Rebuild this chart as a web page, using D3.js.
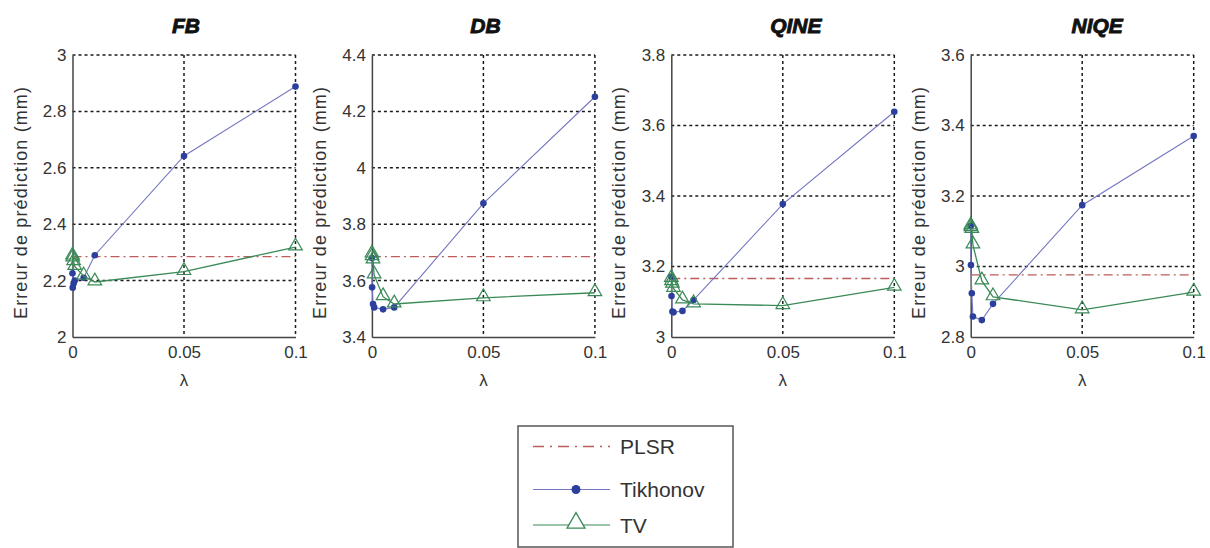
<!DOCTYPE html>
<html>
<head>
<meta charset="utf-8">
<script src="https://cdn.jsdelivr.net/npm/d3@7/dist/d3.min.js"></script>
<style>
    body { margin:0; background:#fff; }
    svg text { font-family:"Liberation Sans", Arial, sans-serif; fill:#333; }
    .title { font-weight:bold; font-style:italic; fill:#111; stroke:#111; stroke-width:0.9; }
</style>
</head>
<body>
<svg></svg>
<script>

// regularisation parameter values (x)
var lambdas = [0, 0.0001, 0.0005, 0.001, 0.005, 0.01, 0.05, 0.1];

var panelNames = ["FB", "DB", "QINE", "NIQE"];

// prediction error (mm) per panel
var tikhonovFB   = [2.226, 2.175, 2.19, 2.20, 2.21, 2.29, 2.642, 2.888];
var tvFB         = [2.287, 2.28, 2.267, 2.25, 2.216, 2.195, 2.232, 2.319];
var tikhonovDB   = [3.68, 3.576, 3.517, 3.505, 3.498, 3.505, 3.874, 4.252];
var tvDB         = [3.694, 3.685, 3.673, 3.62, 3.543, 3.517, 3.539, 3.557];
var tikhonovQINE = [3.171, 3.116, 3.072, 3.07, 3.074, 3.105, 3.377, 3.639];
var tvQINE       = [3.166, 3.157, 3.15, 3.138, 3.105, 3.094, 3.089, 3.141];
var tikhonovNIQE = [3.115, 3.004, 2.924, 2.858, 2.848, 2.894, 3.174, 3.370];
var tvNIQE       = [3.115, 3.11, 3.105, 3.061, 2.959, 2.914, 2.877, 2.927];

// PLSR reference error (constant)
var plsr = [2.285, 3.685, 3.166, 2.976];

var tikhonovAll = [tikhonovFB, tikhonovDB, tikhonovQINE, tikhonovNIQE];
var tvAll = [tvFB, tvDB, tvQINE, tvNIQE];

// axis ranges and tick labels
var yDomains = [[2, 3], [3.4, 4.4], [3, 3.8], [2.8, 3.6]];
var yTicks = [
    [2, 2.2, 2.4, 2.6, 2.8, 3],
    [3.4, 3.6, 3.8, 4, 4.2, 4.4],
    [3, 3.2, 3.4, 3.6, 3.8],
    [2.8, 3, 3.2, 3.4, 3.6]
];
var xTicks = [0, 0.05, 0.1];
var xTickLabels = ["0", "0.05", "0.1"];

var legendNames = ["PLSR", "Tikhonov", "TV"];

var colors = {
    plsr:"#bf5b5b",
    tikLine:"#7477c0",
    tikDot:"#2c3f9c",
    tv:"#3a8a58",
    grid:"#1a1a1a"
};

var screen = {width:1210, height:548};

var svg = d3.select("svg")
    .attr("width", screen.width)
    .attr("height", screen.height);

var layout = {left:72.5, step:299.4, width:223, top:55, bottom:337};
var titleShift = [2, 2, 13, 15];

var triangle = d3.symbol().type(d3.symbolTriangle);

var styleAxis = function(a)
{
    a.select(".domain").attr("stroke", "#444").attr("stroke-width", 1.5);
    a.selectAll("text")
        .attr("font-size", 17)
        .attr("fill", "#333")
        .attr("font-family", "Liberation Sans, Arial");
}

var drawPanel = function(i)
{
    var x0 = layout.left + i*layout.step;
    var h = layout.bottom - layout.top;

    var xScale = d3.scaleLinear()
        .domain([0, 0.1])
        .range([0, layout.width]);

    var yScale = d3.scaleLinear()
        .domain(yDomains[i])
        .range([h, 0]);

    var g = svg.append("g")
        .attr("transform", "translate(" + x0 + "," + layout.top + ")");

    //dotted grid
    g.append("g")
        .selectAll("line")
        .data(yTicks[i].slice(1))
        .enter()
        .append("line")
        .attr("x1", 0)
        .attr("x2", layout.width)
        .attr("y1", function(d) { return yScale(d); })
        .attr("y2", function(d) { return yScale(d); })
        .attr("stroke", colors.grid)
        .attr("stroke-width", 1.5)
        .attr("stroke-dasharray", "3,3");

    g.append("g")
        .selectAll("line")
        .data(xTicks.slice(1))
        .enter()
        .append("line")
        .attr("x1", function(d) { return xScale(d); })
        .attr("x2", function(d) { return xScale(d); })
        .attr("y1", 0)
        .attr("y2", h)
        .attr("stroke", colors.grid)
        .attr("stroke-width", 1.5)
        .attr("stroke-dasharray", "3,3");

    //axes
    var xAxis = d3.axisBottom(xScale)
        .tickValues(xTicks)
        .tickFormat(function(d, k) { return xTickLabels[k]; })
        .tickSize(0)
        .tickPadding(9);

    var yAxis = d3.axisLeft(yScale)
        .tickValues(yTicks[i])
        .tickFormat(function(d) { return String(+d.toFixed(2)); })
        .tickSize(0)
        .tickPadding(6);

    g.append("g")
        .attr("transform", "translate(0," + h + ")")
        .call(xAxis)
        .call(styleAxis);

    g.append("g")
        .call(yAxis)
        .call(styleAxis);

    //PLSR constant
    g.append("line")
        .attr("x1", xScale(0))
        .attr("x2", xScale(0.1))
        .attr("y1", yScale(plsr[i]))
        .attr("y2", yScale(plsr[i]))
        .attr("stroke", colors.plsr)
        .attr("stroke-width", 1.3)
        .attr("stroke-dasharray", "9,4,2,4");

    var lineGenerator = d3.line()
        .x(function(d, k) { return xScale(lambdas[k]); })
        .y(function(d) { return yScale(d); });

    //Tikhonov
    g.append("path")
        .datum(tikhonovAll[i])
        .attr("d", lineGenerator)
        .attr("fill", "none")
        .attr("stroke", colors.tikLine)
        .attr("stroke-width", 1.1);

    g.append("g")
        .selectAll("circle")
        .data(tikhonovAll[i])
        .enter()
        .append("circle")
        .attr("cx", function(d, k) { return xScale(lambdas[k]); })
        .attr("cy", function(d) { return yScale(d); })
        .attr("r", 3.3)
        .attr("fill", colors.tikDot);

    //TV
    g.append("path")
        .datum(tvAll[i])
        .attr("d", lineGenerator)
        .attr("fill", "none")
        .attr("stroke", colors.tv)
        .attr("stroke-width", 1.3);

    g.append("g")
        .selectAll("path")
        .data(tvAll[i])
        .enter()
        .append("path")
        .attr("d", triangle.size(80))
        .attr("transform", function(d, k) {
            return "translate(" + xScale(lambdas[k]) + "," + (yScale(d) - 1) + ")";
        })
        .attr("fill", "none")
        .attr("stroke", colors.tv)
        .attr("stroke-width", 1.2);

    //labels
    svg.append("text")
        .text(panelNames[i])
        .classed("title", true)
        .attr("text-anchor", "middle")
        .attr("font-size", 21)
        .attr("x", x0 + layout.width/2 + titleShift[i])
        .attr("y", 33);

    svg.append("text")
        .text("λ")
        .attr("text-anchor", "middle")
        .attr("font-size", 17)
        .attr("x", x0 + layout.width/2)
        .attr("y", 386);

    svg.append("g")
        .attr("transform", "translate(" + (x0 - 46) + "," + (layout.top + h/2 + 7) + ")")
        .append("text")
        .text("Erreur de prédiction (mm)")
        .attr("text-anchor", "middle")
        .attr("font-size", 18)
        .attr("textLength", 232)
        .attr("lengthAdjust", "spacing")
        .attr("transform", "rotate(-90)");
}

var drawLegend = function()
{
    var lg = svg.append("g")
        .attr("transform", "translate(518,426)");

    lg.append("rect")
        .attr("width", 215)
        .attr("height", 121)
        .attr("fill", "#fff")
        .attr("stroke", "#555")
        .attr("stroke-width", 1.5);

    var rows = [20.5, 63.5, 99];

    lg.selectAll("line.entry")
        .data(legendNames)
        .enter()
        .append("line")
        .classed("entry", true)
        .attr("x1", 15)
        .attr("x2", 92)
        .attr("y1", function(d, k) { return rows[k]; })
        .attr("y2", function(d, k) { return rows[k]; })
        .attr("stroke", function(d, k) { return [colors.plsr, colors.tikLine, colors.tv][k]; })
        .attr("stroke-width", function(d, k) { return k == 0 ? 1.4 : 1.2; })
        .attr("stroke-dasharray", function(d, k) { return k == 0 ? "11,6,2,6" : null; });

    lg.append("circle")
        .attr("cx", 58)
        .attr("cy", rows[1])
        .attr("r", 4.5)
        .attr("fill", colors.tikDot);

    lg.append("path")
        .attr("d", triangle.size(140))
        .attr("transform", "translate(58," + (rows[2] - 2) + ")")
        .attr("fill", "#fff")
        .attr("stroke", colors.tv)
        .attr("stroke-width", 1.3);

    lg.selectAll("text")
        .data(legendNames)
        .enter()
        .append("text")
        .text(function(d) { return d; })
        .attr("x", 102)
        .attr("y", function(d, k) { return rows[k] + 7.5; })
        .attr("font-size", 21)
        .attr("fill", "#222");
}

for (var i = 0; i < panelNames.length; i++)
{
    drawPanel(i);
}
drawLegend();

</script>
</body>
</html>
